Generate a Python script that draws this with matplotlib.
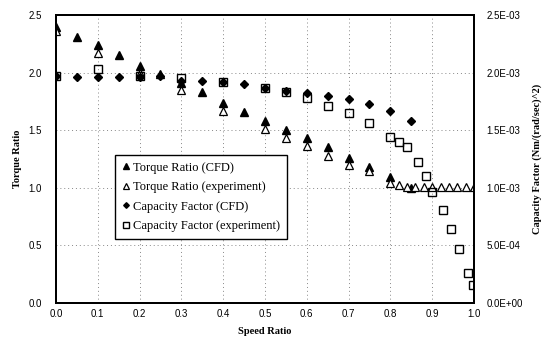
import matplotlib
matplotlib.use('Agg')
import matplotlib.pyplot as plt

# Torque ratio, CFD
tr_cfd_x = [0.0, 0.05, 0.1, 0.15, 0.2, 0.25, 0.3, 0.35, 0.4, 0.45, 0.5, 0.55, 0.6,
            0.65, 0.7, 0.75, 0.8, 0.85]
tr_cfd_y = [2.40, 2.31, 2.24, 2.15, 2.06, 1.99, 1.91, 1.83, 1.74, 1.66, 1.58, 1.50, 1.43,
            1.35, 1.26, 1.18, 1.09, 1.00]

# Torque ratio, experiment
tr_exp_x = [0.0, 0.1, 0.2, 0.3, 0.4, 0.5, 0.55, 0.6, 0.65, 0.7, 0.75, 0.8,
            0.82, 0.84, 0.86, 0.88, 0.9, 0.92, 0.94, 0.96, 0.98, 1.0]
tr_exp_y = [2.36, 2.17, 2.00, 1.85, 1.67, 1.51, 1.43, 1.36, 1.28, 1.20, 1.15, 1.04,
            1.02, 1.01, 1.01, 1.01, 1.01, 1.01, 1.01, 1.01, 1.01, 1.01]

# Capacity factor, CFD (Nm/(rad/sec)^2)
cf_cfd_x = [0.0, 0.05, 0.1, 0.15, 0.2, 0.25, 0.3, 0.35, 0.4, 0.45, 0.5, 0.55, 0.6,
            0.65, 0.7, 0.75, 0.8, 0.85]
cf_cfd_y = [1.97e-3, 1.96e-3, 1.96e-3, 1.96e-3, 1.96e-3, 1.97e-3, 1.93e-3, 1.93e-3, 1.92e-3,
            1.90e-3, 1.87e-3, 1.84e-3, 1.82e-3, 1.80e-3, 1.77e-3, 1.73e-3, 1.67e-3, 1.58e-3]

# Capacity factor, experiment
cf_exp_x = [0.0, 0.1, 0.2, 0.3, 0.4, 0.5, 0.55, 0.6, 0.65, 0.7, 0.75, 0.8,
            0.82, 0.84, 0.865, 0.885, 0.9, 0.925, 0.945, 0.965, 0.985, 0.997]
cf_exp_y = [1.97e-3, 2.03e-3, 1.97e-3, 1.95e-3, 1.92e-3, 1.87e-3, 1.83e-3, 1.78e-3, 1.71e-3,
            1.65e-3, 1.56e-3, 1.44e-3, 1.40e-3, 1.35e-3, 1.22e-3, 1.10e-3, 0.96e-3, 0.81e-3,
            0.64e-3, 0.47e-3, 0.26e-3, 0.16e-3]

x_ticks = [0.0, 0.1, 0.2, 0.3, 0.4, 0.5, 0.6, 0.7, 0.8, 0.9, 1.0]
left_ticks = [0.0, 0.5, 1.0, 1.5, 2.0, 2.5]
right_ticks = [0.0, 5e-4, 1e-3, 1.5e-3, 2e-3, 2.5e-3]
right_labels = ['0.0E+00', '5.0E-04', '1.0E-03', '1.5E-03', '2.0E-03', '2.5E-03']

serif = 'Liberation Serif'
sans = 'Liberation Sans'

fig = plt.figure(figsize=(5.51, 3.43), dpi=100)
ax = fig.add_axes([0.1016, 0.1166, 0.7586, 0.8397])
ax2 = ax.twinx()

h1, = ax.plot(tr_cfd_x, tr_cfd_y, ls='none', marker='^', ms=5.5, color='black',
              label='Torque Ratio (CFD)')
h2, = ax.plot(tr_exp_x, tr_exp_y, ls='none', marker='^', ms=6, mfc='white', mec='black',
              mew=0.9, label='Torque Ratio (experiment)')
h4, = ax2.plot(cf_exp_x, cf_exp_y, ls='none', marker='s', ms=6, mfc='none', mec='black',
               mew=1.0, label='Capacity Factor (experiment)')
h3, = ax2.plot(cf_cfd_x, cf_cfd_y, ls='none', marker='D', ms=3.8, color='black',
               label='Capacity Factor (CFD)')

ax.set_xlim(0, 1)
ax.set_ylim(0, 2.5)
ax2.set_ylim(0, 2.5e-3)
ax.set_xticks(x_ticks)
ax.set_xticklabels(['%.1f' % v for v in x_ticks], fontfamily=sans, fontsize=7)
ax.set_yticks(left_ticks)
ax.set_yticklabels(['%.1f' % v for v in left_ticks], fontfamily=sans, fontsize=7)
ax2.set_yticks(right_ticks)
ax2.set_yticklabels(right_labels, fontfamily=sans, fontsize=7)

ax.tick_params(axis='x', length=0, pad=4)
ax.tick_params(axis='y', length=0, pad=10)
ax2.tick_params(length=0, pad=9)

ax.grid(True, color='#888888', ls=(0, (1, 3)), lw=0.7)

for a in (ax, ax2):
    for s in a.spines.values():
        s.set_linewidth(1.4)

ax.set_xlabel('Speed Ratio', fontfamily=serif, fontweight='bold', fontsize=7.5, labelpad=6)
ax.set_ylabel('Torque Ratio', fontfamily=serif, fontweight='bold', fontsize=7.5, labelpad=5)
ax2.set_ylabel('Capacity Factor (Nm/(rad/sec)^2)', fontfamily=serif, fontweight='bold',
               fontsize=7.5, labelpad=7)

leg = ax2.legend(handles=[h1, h2, h3, h4], loc='upper left', bbox_to_anchor=(0.141, 0.514),
                 prop={'family': serif, 'size': 9}, frameon=True, fancybox=False,
                 edgecolor='black', framealpha=1, handlelength=0.6, handletextpad=0.3,
                 borderpad=0.55, labelspacing=0.6, markerscale=0.75, borderaxespad=0)
leg.get_frame().set_linewidth(1.0)

fig.savefig('out.png', dpi=100)
